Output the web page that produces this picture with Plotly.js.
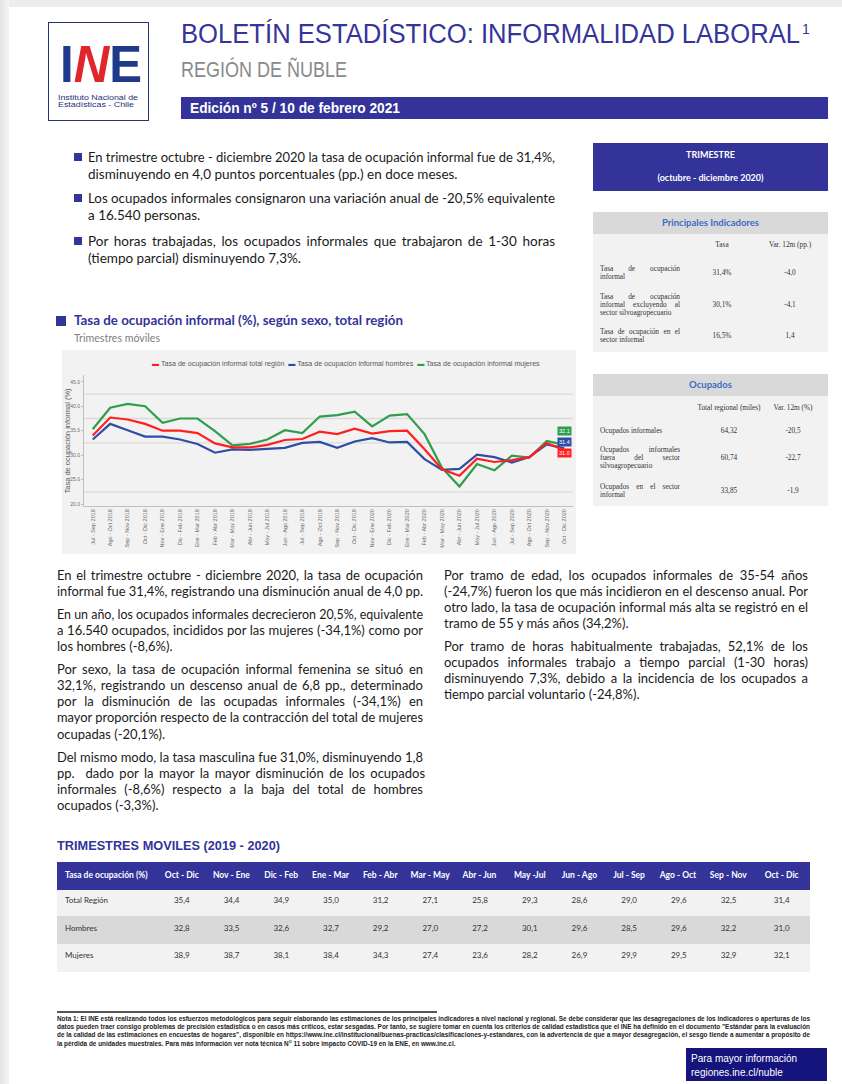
<!DOCTYPE html>
<html lang="es"><head><meta charset="utf-8">
<script src="https://cdn.plot.ly/plotly-3.0.1.min.js"></script>
<style>
html,body{margin:0;padding:0}
body{width:842px;height:1084px;position:relative;overflow:hidden;background:#ffffff;font-family:Lato,"Liberation Sans",sans-serif}
.ln{position:absolute;white-space:nowrap}
.box{position:absolute}
.plot{position:absolute}
</style></head><body>
<div class="box" style="left:0;top:0;width:842px;height:7px;background:#ededed"></div>
<div class="box" style="left:0;top:0;width:9px;height:1084px;background:linear-gradient(to right,#e4e4e4,#f6f6f6)"></div>
<div class="box" style="left:48px;top:22px;width:99px;height:97px;border:1.5px solid #23327a;background:#fff"></div>
<div class="box" style="left:181px;top:97px;width:647px;height:22px;background:#333399"></div>
<div class="box" style="left:593px;top:143px;width:235px;height:48px;background:#333399"></div>
<div class="box" style="left:593px;top:212px;width:235px;height:22px;background:#d9d9d9"></div>
<div class="box" style="left:593px;top:234px;width:235px;height:118px;background:#f2f2f2"></div>
<div class="box" style="left:593px;top:374px;width:235px;height:22px;background:#d9d9d9"></div>
<div class="box" style="left:593px;top:396px;width:235px;height:110px;background:#f2f2f2"></div>
<div class="box" style="left:56px;top:316px;width:10px;height:10px;background:#333399"></div>
<div class="box" style="left:57px;top:1011px;width:380px;height:2px;background:#555"></div>
<div class="box" style="left:686px;top:1048px;width:141px;height:33px;background:#14147c"></div>
<div id="chart" class="plot" style="left:62px;top:350px;width:514px;height:204px"></div>
<div id="tbl" class="plot" style="left:57px;top:862px;width:753px;height:112px"></div>
<script>
// ---------------- DATA ----------------
const categories = ['Jul - Sep 2018','Ago - Oct 2018','Sep - Nov 2018','Oct - Dic 2018','Nov - Ene 2019','Dic - Feb 2019','Ene - Mar 2019','Feb - Abr 2019','Mar - May 2019','Abr - Jun 2019','May - Jul 2019','Jun - Ago 2019','Jul - Sep 2019','Ago - Oct 2019','Sep - Nov 2019','Oct - Dic 2019','Nov - Ene 2020','Dic - Feb 2020','Ene - Mar 2020','Feb - Abr 2020','Mar - May 2020','Abr - Jun 2020','May - Jul 2020','Jun - Ago 2020','Jul - Sep 2020','Ago - Oct 2020','Sep - Nov 2020','Oct - Dic 2020'];
const seriesNames = ['Tasa de ocupación informal total región','Tasa de ocupación informal hombres','Tasa de ocupación informal mujeres'];
const serieTotal   = [34.0,37.7,37.3,36.4,35.0,35.0,34.5,32.4,31.6,31.6,32.1,33.1,33.3,34.8,34.3,35.4,34.4,34.9,35.0,31.2,27.1,25.8,29.3,28.6,29.0,29.6,32.5,31.0];
const serieHombres = [33.2,36.4,35.1,33.8,33.8,33.2,32.3,30.5,31.2,31.1,31.3,31.5,32.5,32.7,31.5,32.8,33.5,32.6,32.7,29.2,27.0,27.2,30.1,29.6,28.5,29.6,32.2,31.4];
const serieMujeres = [35.3,39.7,40.5,40.0,36.6,37.5,37.5,34.9,32.0,32.3,33.2,35.1,34.5,37.9,38.2,38.9,35.9,38.1,38.4,34.3,27.4,23.6,28.2,26.9,29.9,29.5,32.9,32.1];
const yTickVals = [20,25,30,35,40,45];
const yGridVals = [22.5,32.5,37.5,42.5];

const tableHeader = ['Tasa de ocupación (%)','Oct - Dic','Nov - Ene','Dic - Feb','Ene - Mar','Feb - Abr','Mar - May','Abr - Jun','May -Jul','Jun - Ago','Jul - Sep','Ago - Oct','Sep - Nov','Oct - Dic'];
const tableRowNames = ['Total Región','Hombres','Mujeres'];
const tableTotal   = [35.4,34.4,34.9,35.0,31.2,27.1,25.8,29.3,28.6,29.0,29.6,32.5,31.4];
const tableHombres = [32.8,33.5,32.6,32.7,29.2,27.0,27.2,30.1,29.6,28.5,29.6,32.2,31.0];
const tableMujeres = [38.9,38.7,38.1,38.4,34.3,27.4,23.6,28.2,26.9,29.9,29.5,32.9,32.1];

const indicHeader = ['Tasa', 'Var. 12m (pp.)'];
const indicLabels = ['Tasa de ocupación informal','Tasa de ocupación informal excluyendo al sector silvoagropecuario','Tasa de ocupación en el sector informal'];
const indicTasa = [31.4,30.1,16.5];
const indicVar  = [-4.0,-4.1,1.4];
const ocupHeader = ['Total regional (miles)', 'Var. 12m (%)'];
const ocupLabels = ['Ocupados informales','Ocupados informales fuera del sector silvoagropecuario','Ocupados en el sector informal'];
const ocupTotal = [64.32,60.74,33.85];
const ocupVar   = [-20.5,-22.7,-1.9];

// ---------------- TEXT HELPERS ----------------
function fmt(v,d){return v.toFixed(d).replace('.',',');}
function txt(html,x,cy,o){
  o=o||{};
  const d=document.createElement('div');
  d.className='ln';
  d.innerHTML=html;
  const fs=o.size||13, lh=o.lh||Math.round(fs*1.3);
  Object.assign(d.style,{left:x+'px',top:(cy-lh/2)+'px',fontSize:fs+'px',lineHeight:lh+'px',
    color:o.color||'#1a1a1a',fontWeight:o.bold?'700':'400',fontFamily:o.font||'Lato, "Liberation Sans", sans-serif',
    fontStyle:o.italic?'italic':'normal'});
  document.body.appendChild(d);
  const nat=d.getBoundingClientRect().width;
  let sc=1;
  if(o.scale){sc=o.scale;}
  else if(o.w){
    const sp=(d.textContent.match(/ /g)||[]).length;
    if(o.mode==='justify'&&nat<o.w&&sp>0){d.style.wordSpacing=((o.w-nat)/sp)+'px';}
    else if(o.mode==='stretch'||nat>o.w){sc=o.w/nat;}
  }
  if(sc!==1){d.style.transformOrigin='0 50%';d.style.transform='scaleX('+sc+')';}
  if(o.center){d.style.left=(x-nat*sc/2)+'px';}
  return sc;
}
function para(lines,x,y0,w,step,o){
  lines.forEach((l,i)=>txt(l,x,y0+i*step,Object.assign({w:w,mode:i<lines.length-1?'justify':'fit'},o)));
}
const cv=document.createElement('canvas').getContext('2d');
function wrap(text,font,maxW){
  cv.font=font;
  const words=text.split(' ');const lines=[];let cur='';
  words.forEach(w=>{const t=cur?cur+' '+w:w; if(cv.measureText(t).width>maxW&&cur){lines.push(cur);cur=w;}else cur=t;});
  if(cur)lines.push(cur);return lines;
}

// ---------------- HEADER ----------------
txt('<span style="color:#1f3a8a">I</span><span style="color:#e0262b;font-style:italic">N</span><span style="color:#1f3a8a">E</span>',60,64,{size:52,bold:true,w:82,mode:'stretch',font:'"Liberation Sans",Arial,sans-serif',lh:40});
txt('Instituto Nacional de',58,97.5,{size:7,color:'#1f2f7a',w:80,mode:'stretch',font:'"Liberation Sans",sans-serif',lh:7});
txt('Estadísticas - Chile',58,104.5,{size:7,color:'#1f2f7a',w:76,mode:'stretch',font:'"Liberation Sans",sans-serif',lh:7});
txt('BOLETÍN ESTADÍSTICO: INFORMALIDAD LABORAL',181,34,{size:27,color:'#35349a',w:619,mode:'stretch',font:'"Liberation Sans",Arial,sans-serif',lh:30});
txt('1',802,29,{size:14,color:'#35349a',font:'"Liberation Sans",sans-serif'});
txt('REGIÓN DE ÑUBLE',181,70,{size:22,color:'#8a8a8a',w:166,mode:'stretch',font:'"Liberation Sans",Arial,sans-serif',lh:26});
txt('Edición nº 5 / 10 de febrero 2021',190,108,{size:14,bold:true,color:'#ffffff',w:210,mode:'stretch',font:'"Liberation Sans",Arial,sans-serif'});

// ---------------- BULLETS ----------------
const bullets=[
 ['En trimestre octubre - diciembre 2020 la tasa de ocupación informal fue de 31,4%,','disminuyendo en 4,0 puntos porcentuales (pp.) en doce meses.'],
 ['Los ocupados informales consignaron una variación anual de -20,5% equivalente','a 16.540 personas.'],
 ['Por horas trabajadas, los ocupados informales que trabajaron de 1-30 horas','(tiempo parcial) disminuyendo 7,3%.']];
const bulletY=[157,198,241];
bullets.forEach((b,i)=>{
  const s=document.createElement('div');s.className='box';
  Object.assign(s.style,{left:'74px',top:(bulletY[i]-4)+'px',width:'8px',height:'8px',background:'#333399'});
  document.body.appendChild(s);
  para(b,88,bulletY[i],467,17,{size:13.5,color:'#1a1a1a'});
});

// ---------------- RIGHT PANELS ----------------
txt('TRIMESTRE',710.5,155,{size:9,bold:true,color:'#fff',center:true});
txt('(octubre - diciembre 2020)',710.5,178,{size:9,bold:true,color:'#fff',center:true});
txt('Principales Indicadores',710.5,223,{size:9.5,bold:true,color:'#3d6cc4',center:true});
txt('Ocupados',710.5,385,{size:9.5,bold:true,color:'#3d6cc4',center:true});
const serifFam='"Liberation Serif","Times New Roman",serif';
function panel(header,labels,c2,c3,colX,headY,rowY,wrapW){
  const fs=7.3, step=7.7;
  header.forEach((h,j)=>txt(h,colX[j],headY,{size:fs,color:'#333',font:serifFam,center:true,lh:8}));
  labels.forEach((lab,i)=>{
    const lines=wrap(lab,fs+'px '+serifFam,wrapW);
    const y0=rowY[i]-(lines.length-1)*step/2;
    lines.forEach((l,k)=>txt(l,600,y0+k*step,{size:fs,color:'#333',font:serifFam,lh:8,w:80,mode:k<lines.length-1?'justify':'fit'}));
    txt(c2[i],colX[0],rowY[i],{size:fs,color:'#333',font:serifFam,center:true,lh:8});
    txt(c3[i],colX[1],rowY[i],{size:fs,color:'#333',font:serifFam,center:true,lh:8});
  });
}
panel(indicHeader,indicLabels,indicTasa.map(v=>fmt(v,1)+'%'),indicVar.map(v=>fmt(v,1)),[722,790],245,[273,305,336],80);
panel(ocupHeader,ocupLabels,ocupTotal.map(v=>fmt(v,2)),ocupVar.map(v=>fmt(v,1)),[729,793],408,[431,458,491],74);

// ---------------- CHART TITLE ----------------
txt('Tasa de ocupación informal (%), según sexo, total región',74,321,{size:12.5,bold:true,color:'#333399',w:329,mode:'stretch'});
txt('Trimestres móviles',74,337,{size:11.5,color:'#808080',w:86,mode:'stretch'});

// ---------------- PARAGRAPHS ----------------
const leftParas=[
 [['En el trimestre octubre - diciembre 2020, la tasa de ocupación','informal fue 31,4%, registrando una disminución anual de 4,0 pp.'],575],
 [['En un año, los ocupados informales decrecieron 20,5%, equivalente','a 16.540 ocupados, incididos por las mujeres (-34,1%) como por','los hombres (-8,6%).'],614],
 [['Por sexo, la tasa de ocupación informal femenina se situó en','32,1%, registrando un descenso anual de 6,8 pp., determinado','por la disminución de las ocupadas informales (-34,1%) en','mayor proporción respecto de la contracción del total de mujeres','ocupadas (-20,1%).'],669],
 [['Del mismo modo, la tasa masculina fue 31,0%, disminuyendo 1,8','pp.&nbsp; dado por la mayor la mayor disminución de los ocupados','informales (-8,6%) respecto a la baja del total de hombres','ocupados (-3,3%).'],757]];
leftParas.forEach(p=>para(p[0],57,p[1],366,16.3,{size:13}));
const rightParas=[
 [['Por tramo de edad, los ocupados informales de 35-54 años','(-24,7%) fueron los que más incidieron en el descenso anual. Por','otro lado, la tasa de ocupación informal más alta se registró en el','tramo de 55 y más años (34,2%).'],575],
 [['Por tramo de horas habitualmente trabajadas, 52,1% de los','ocupados informales trabajo a tiempo parcial (1-30 horas)','disminuyendo 7,3%, debido a la incidencia de los ocupados a','tiempo parcial voluntario (-24,8%).'],646]];
rightParas.forEach(p=>para(p[0],444,p[1],364,16.3,{size:13}));

txt('TRIMESTRES MOVILES (2019 - 2020)',57,845,{size:13,bold:true,color:'#333399',w:223,mode:'stretch',font:'"Liberation Sans",Arial,sans-serif'});

// ---------------- FOOTER ----------------
const note=['Nota 1: El INE está realizando todos los esfuerzos metodológicos para seguir elaborando las estimaciones de los principales indicadores a nivel nacional y regional. Se debe considerar que las desagregaciones de los indicadores o aperturas de los',
'datos pueden traer consigo problemas de precisión estadística o en casos más críticos, estar sesgadas. Por tanto, se sugiere tomar en cuenta los criterios de calidad estadística que el INE ha definido en el documento "Estándar para la evaluación',
'de la calidad de las estimaciones en encuestas de hogares", disponible en https://www.ine.cl/institucional/buenas-practicas/clasificaciones-y-estandares, con la advertencia de que a mayor desagregación, el sesgo tiende a aumentar a propósito de',
'la pérdida de unidades muestrales. Para más información ver nota técnica N<sup style="font-size:4px">O</sup> 11 sobre impacto COVID-19 en la ENE, en www.ine.cl.'];
let nsc=1;
note.forEach((l,i)=>{
  const o={size:6.3,bold:true,color:'#222',font:'"Liberation Sans",Arial,sans-serif',lh:8};
  if(i<3){o.w=753;o.mode='stretch';const s=txt(l,57,1019+i*7.8,o);if(i===0)nsc=s;}
  else{o.scale=nsc;txt(l,57,1019+i*7.8,o);}
});
txt('Para mayor información',691,1058,{size:10,color:'#fff',font:'"Liberation Sans",Arial,sans-serif'});
txt('regiones.ine.cl/nuble',691,1072,{size:10,color:'#fff',font:'"Liberation Sans",Arial,sans-serif'});

// ---------------- CHART ----------------
const colors=['#ff1f1f','#2e4ea6','#2f9e4c'];
const seriesData=[serieTotal,serieHombres,serieMujeres];
const drawOrder=[2,1,0];
const traces=drawOrder.map(i=>({type:'scatter',mode:'lines',x:categories,y:seriesData[i],name:seriesNames[i],
  line:{color:colors[i],width:2.2},hoverinfo:'skip'}));
const legendText=seriesNames.map((n,i)=>'<span style="color:'+colors[i]+'">▬</span> '+n).join('\u00a0\u00a0');
const endShift=[-2.5,6.3,13.8];
const annotations=[
 {xref:'paper',yref:'paper',x:0.536,y:1.085,xanchor:'center',yanchor:'middle',showarrow:false,text:legendText,
  font:{size:7.1,color:'#595959',family:'"Liberation Sans", Arial, sans-serif'}},
 {xref:'paper',yref:'paper',x:0,xshift:-17,y:0.5,xanchor:'center',yanchor:'middle',textangle:-90,showarrow:false,
  text:'Tasa de ocupación informal (%)',font:{size:7.5,color:'#595959',family:'"Liberation Sans", Arial, sans-serif'}}
];
seriesData.forEach((s,i)=>annotations.push({x:categories[categories.length-1],y:s[s.length-1],yshift:endShift[i],
  text:s[s.length-1].toFixed(1),showarrow:false,bgcolor:colors[i],borderpad:1,xanchor:'center',yanchor:'middle',
  font:{size:5.5,color:'#ffffff',family:'"Liberation Sans", Arial, sans-serif'}}));
const shapes=yGridVals.map(v=>({type:'line',xref:'paper',x0:0,x1:1,yref:'y',y0:v,y1:v,layer:'below',line:{color:'#dadada',width:1.3}}));
Plotly.newPlot('chart',traces,{
  width:514,height:204,margin:{l:22,r:3,t:25,b:48},
  paper_bgcolor:'#f2f2f2',plot_bgcolor:'#f2f2f2',showlegend:false,
  font:{family:'"Liberation Sans", Arial, sans-serif',color:'#595959'},
  xaxis:{type:'category',tickangle:-90,tickfont:{size:5.5,color:'#6b6b6b'},showgrid:false,showline:true,linecolor:'#bfbfbf',linewidth:1,ticks:'',range:[-0.5,27.5],automargin:false},
  yaxis:{range:[19.6,46.4],tickvals:yTickVals,tickformat:'.1f',tickfont:{size:5,color:'#6b6b6b'},showgrid:false,zeroline:false,showline:true,linecolor:'#bfbfbf',ticks:'outside',ticklen:2,tickcolor:'#bfbfbf',automargin:false},
  shapes:shapes,annotations:annotations
},{staticPlot:true,displayModeBar:false});

// ---------------- TABLE ----------------
const rowFill=['#f2f2f2','#d9d9d9','#f2f2f2'];
const nb=s=>s.replace(/ /g,'\u00a0');
const tblCols=[tableRowNames].concat(tableTotal.map((_,j)=>[tableTotal[j],tableHombres[j],tableMujeres[j]].map(v=>fmt(v,1))));
Plotly.newPlot('tbl',[{type:'table',columnwidth:[100].concat(Array(12).fill(49.7)).concat([56.6]),
  header:{values:tableHeader.map(h=>'<b>'+nb(h)+'</b>'),align:['left','center'],fill:{color:'#333399'},line:{color:'#333399',width:1},
    font:{family:'Lato, sans-serif',size:8.5,color:'#ffffff'},height:27},
  cells:{values:tblCols,align:['left','center'],fill:{color:tblCols.map(()=>rowFill)},line:{color:tblCols.map(()=>rowFill),width:1},
    font:{family:'Lato, sans-serif',size:8,color:'#333333'},height:27.5}}],
  {width:753,height:112,margin:{l:0,r:0,t:0,b:0},paper_bgcolor:'rgba(0,0,0,0)'},{staticPlot:true,displayModeBar:false});
</script>
</body></html>
